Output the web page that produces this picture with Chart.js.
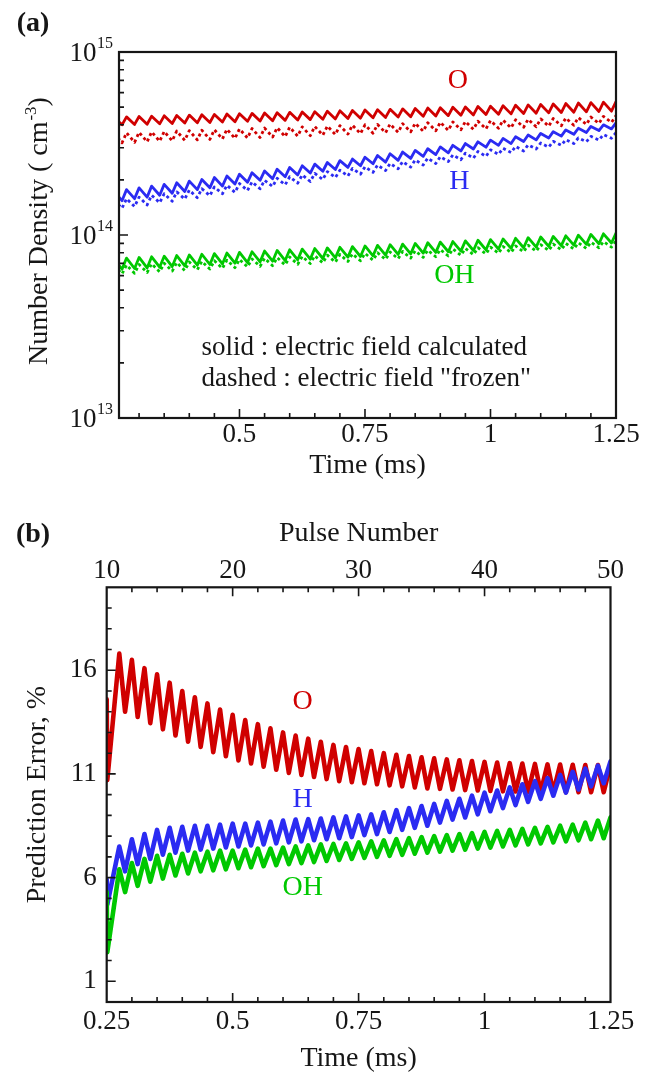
<!DOCTYPE html>
<html>
<head>
<meta charset="utf-8">
<script src="https://cdn.jsdelivr.net/npm/chart.js@4.4.1/dist/chart.umd.min.js"></script>
<style>
  html, body { margin: 0; padding: 0; background: #ffffff; }
  #wrap { position: relative; width: 656px; height: 1075px; overflow: hidden; background: #ffffff; }
  canvas { position: absolute; left: 0; }
  #densityChart { top: 0; }
  #errorChart { top: 500px; }
</style>
</head>
<body>
<div id="wrap">
  <canvas id="densityChart" width="656" height="500" style="width:656px;height:500px"></canvas>
  <canvas id="errorChart" width="656" height="575" style="width:656px;height:575px"></canvas>
</div>
<script>
// Discharge pulses: one pulse every 0.025 ms, pulse 10 fires at t = 0.25 ms
const pulseNumbers = [10, 11, 12, 13, 14, 15, 16, 17, 18, 19, 20, 21, 22, 23, 24, 25, 26, 27, 28, 29, 30,
                      31, 32, 33, 34, 35, 36, 37, 38, 39, 40, 41, 42, 43, 44, 45, 46, 47, 48, 49, 50];
const MS_PER_PULSE = 0.025;

// Panel (a): number density at each pulse (peak) and just before it (low), in 1e14 cm^-3
const oCalcPeak = [4.40, 4.42, 4.44, 4.46, 4.48, 4.50, 4.52, 4.54, 4.56, 4.58, 4.60, 4.62, 4.64, 4.66, 4.68, 4.70, 4.72, 4.75, 4.77, 4.79, 4.82,
                   4.84, 4.86, 4.89, 4.91, 4.94, 4.96, 4.99, 5.01, 5.04, 5.06, 5.09, 5.12, 5.14, 5.17, 5.20, 5.23, 5.26, 5.29, 5.32, 5.36];
const oCalcLow = [3.98, 4.00, 4.02, 4.03, 4.05, 4.07, 4.09, 4.10, 4.12, 4.14, 4.16, 4.18, 4.20, 4.21, 4.23, 4.25, 4.27, 4.29, 4.31, 4.33, 4.35,
                  4.37, 4.39, 4.41, 4.43, 4.45, 4.47, 4.49, 4.51, 4.53, 4.55, 4.57, 4.59, 4.61, 4.63, 4.65, 4.67, 4.69, 4.71, 4.73, 4.75];
const oFrozenPeak = [3.60, 3.62, 3.64, 3.66, 3.68, 3.70, 3.72, 3.74, 3.76, 3.78, 3.80, 3.82, 3.84, 3.86, 3.88, 3.90, 3.92, 3.94, 3.96, 3.98, 4.00,
                     4.02, 4.04, 4.06, 4.08, 4.11, 4.13, 4.15, 4.17, 4.19, 4.22, 4.24, 4.26, 4.29, 4.31, 4.33, 4.36, 4.38, 4.41, 4.45, 4.49];
const oFrozenLow = [3.17, 3.19, 3.21, 3.23, 3.25, 3.27, 3.29, 3.31, 3.33, 3.35, 3.37, 3.39, 3.41, 3.43, 3.45, 3.47, 3.49, 3.51, 3.54, 3.56, 3.58,
                    3.60, 3.62, 3.64, 3.66, 3.69, 3.71, 3.73, 3.76, 3.78, 3.80, 3.83, 3.85, 3.88, 3.90, 3.93, 3.95, 3.98, 4.02, 4.07, 4.12];
const hCalcPeak = [1.73, 1.77, 1.81, 1.85, 1.89, 1.93, 1.97, 2.01, 2.06, 2.10, 2.15, 2.19, 2.24, 2.29, 2.34, 2.39, 2.44, 2.49, 2.55, 2.60, 2.66,
                   2.72, 2.78, 2.84, 2.90, 2.96, 3.03, 3.09, 3.16, 3.23, 3.30, 3.37, 3.44, 3.52, 3.59, 3.67, 3.75, 3.83, 3.92, 4.00, 4.10];
const hCalcLow = [1.50, 1.54, 1.58, 1.61, 1.65, 1.69, 1.73, 1.77, 1.81, 1.85, 1.90, 1.94, 1.99, 2.03, 2.08, 2.13, 2.18, 2.23, 2.28, 2.34, 2.39,
                  2.45, 2.50, 2.56, 2.62, 2.69, 2.75, 2.81, 2.88, 2.95, 3.02, 3.09, 3.16, 3.24, 3.31, 3.39, 3.47, 3.55, 3.63, 3.72, 3.80];
const hFrozenPeak = [1.55, 1.58, 1.61, 1.65, 1.68, 1.72, 1.76, 1.79, 1.83, 1.87, 1.91, 1.95, 1.99, 2.04, 2.08, 2.13, 2.17, 2.22, 2.26, 2.31, 2.36,
                     2.41, 2.46, 2.52, 2.57, 2.63, 2.68, 2.74, 2.80, 2.86, 2.92, 2.98, 3.05, 3.11, 3.18, 3.25, 3.32, 3.39, 3.46, 3.54, 3.62];
const hFrozenLow = [1.37, 1.40, 1.43, 1.46, 1.50, 1.53, 1.57, 1.60, 1.64, 1.68, 1.71, 1.75, 1.79, 1.84, 1.88, 1.92, 1.96, 2.01, 2.06, 2.10, 2.15,
                    2.20, 2.25, 2.30, 2.35, 2.41, 2.46, 2.52, 2.58, 2.63, 2.69, 2.76, 2.82, 2.88, 2.95, 3.02, 3.09, 3.16, 3.23, 3.30, 3.38];
const ohCalcPeak = [0.742, 0.748, 0.754, 0.760, 0.766, 0.772, 0.778, 0.785, 0.791, 0.797, 0.804, 0.810, 0.817, 0.823, 0.830, 0.837, 0.843,
                    0.850, 0.857, 0.864, 0.871, 0.878, 0.885, 0.892, 0.899, 0.907, 0.914, 0.921, 0.929, 0.936, 0.944, 0.951, 0.959,
                    0.967, 0.975, 0.982, 0.990, 0.998, 1.007, 1.015, 1.023];
const ohCalcLow = [0.645, 0.650, 0.656, 0.661, 0.667, 0.672, 0.678, 0.684, 0.690, 0.695, 0.701, 0.707, 0.713, 0.719, 0.725, 0.732, 0.738,
                   0.744, 0.750, 0.757, 0.763, 0.770, 0.776, 0.783, 0.789, 0.796, 0.803, 0.810, 0.817, 0.823, 0.830, 0.838, 0.845,
                   0.852, 0.859, 0.866, 0.874, 0.881, 0.889, 0.896, 0.904];
const ohFrozenPeak = [0.680, 0.685, 0.690, 0.696, 0.701, 0.707, 0.712, 0.718, 0.723, 0.729, 0.735, 0.740, 0.746, 0.752, 0.758, 0.764, 0.770,
                      0.776, 0.782, 0.788, 0.794, 0.800, 0.807, 0.813, 0.819, 0.826, 0.832, 0.839, 0.845, 0.852, 0.858, 0.865, 0.872,
                      0.879, 0.885, 0.892, 0.899, 0.906, 0.913, 0.920, 0.927];
const ohFrozenLow = [0.608, 0.613, 0.618, 0.624, 0.629, 0.635, 0.640, 0.646, 0.651, 0.657, 0.663, 0.669, 0.674, 0.680, 0.686, 0.692, 0.698,
                     0.704, 0.710, 0.717, 0.723, 0.729, 0.735, 0.742, 0.748, 0.755, 0.761, 0.768, 0.775, 0.781, 0.788, 0.795, 0.802,
                     0.809, 0.816, 0.823, 0.830, 0.838, 0.845, 0.852, 0.859];

// Panel (b): prediction error (%) at each pulse (peak) and the low between pulses
const errOPeak = [14.6, 16.8, 16.5, 16.1, 15.8, 15.4, 15.0, 14.7, 14.4, 14.1, 13.85, 13.6, 13.4, 13.2, 13.0, 12.85, 12.7, 12.55, 12.4, 12.3, 12.2,
                  12.1, 12.0, 11.92, 11.86, 11.8, 11.75, 11.7, 11.66, 11.62, 11.58, 11.55, 11.52, 11.5, 11.48, 11.46, 11.45, 11.44, 11.43, 11.43, 11.45];
const errOLow = [10.7, 14.0, 13.75, 13.45, 13.15, 12.85, 12.55, 12.3, 12.05, 11.85, 11.65, 11.5, 11.35, 11.2, 11.05, 10.95, 10.85, 10.75, 10.65, 10.6, 10.55,
                 10.5, 10.45, 10.4, 10.35, 10.3, 10.28, 10.25, 10.22, 10.2, 10.18, 10.16, 10.15, 10.14, 10.13, 10.12, 10.12, 10.12, 10.12, 10.12, 10.15];
const errHPeak = [5.9, 7.5, 7.85, 8.1, 8.3, 8.4, 8.45, 8.5, 8.5, 8.55, 8.6, 8.6, 8.65, 8.7, 8.75, 8.8, 8.82, 8.85, 8.9, 8.95, 9.0,
                  9.05, 9.15, 9.25, 9.35, 9.45, 9.55, 9.7, 9.8, 9.95, 10.1, 10.2, 10.35, 10.5, 10.65, 10.8, 10.95, 11.1, 11.25, 11.4, 11.6];
const errHLow = [4.7, 6.3, 6.65, 6.9, 7.1, 7.2, 7.3, 7.35, 7.4, 7.45, 7.5, 7.55, 7.6, 7.65, 7.7, 7.75, 7.8, 7.85, 7.9, 7.95, 8.05,
                 8.1, 8.2, 8.3, 8.4, 8.5, 8.65, 8.8, 8.9, 9.05, 9.2, 9.35, 9.5, 9.65, 9.8, 9.95, 10.1, 10.25, 10.4, 10.55, 10.7];
const errOHPeak = [5.3, 6.4, 6.7, 6.9, 7.05, 7.1, 7.15, 7.2, 7.25, 7.3, 7.3, 7.35, 7.4, 7.4, 7.45, 7.5, 7.55, 7.6, 7.62, 7.65, 7.7,
                   7.75, 7.8, 7.85, 7.9, 7.95, 8.0, 8.05, 8.1, 8.15, 8.2, 8.25, 8.3, 8.35, 8.4, 8.45, 8.5, 8.55, 8.65, 8.75, 8.9];
const errOHLow = [2.4, 5.3, 5.6, 5.8, 5.95, 6.1, 6.2, 6.3, 6.35, 6.4, 6.45, 6.5, 6.55, 6.6, 6.65, 6.7, 6.75, 6.8, 6.85, 6.9, 6.95,
                  7.0, 7.05, 7.1, 7.15, 7.2, 7.25, 7.3, 7.35, 7.4, 7.45, 7.5, 7.55, 7.6, 7.65, 7.7, 7.75, 7.8, 7.85, 7.9, 8.0];

// Axis tick values
const timeTicks = [0.25, 0.5, 0.75, 1, 1.25];
const timeMinorTicks = [0.3, 0.35, 0.4, 0.45, 0.55, 0.6, 0.65, 0.7, 0.8, 0.85, 0.9, 0.95, 1.05, 1.1, 1.15, 1.2];
const pulseTicks = [10, 20, 30, 40, 50];
const pulseMinorTicks = [12, 14, 16, 18, 22, 24, 26, 28, 32, 34, 36, 38, 42, 44, 46, 48];
const errorTicks = [1, 6, 11, 16];
const errorMinorTicks = [2, 3, 4, 5, 7, 8, 9, 10, 12, 13, 14, 15, 17, 18, 19];
const densityDecades = [13, 14, 15];
const densityMinorMantissas = [2, 3, 4, 5, 6, 7, 8, 9];

const FONT = '"Liberation Serif", "Times New Roman", Times, serif';
const INK = '#161616';
const RED = '#d00000';
const BLUE = '#2b2bf2';
const GREEN = '#00c800';
const DENSITY_UNIT = 1e14;
const RISE_MS = 0.009;    // build-up drawn before each density peak
const DROP_MS = 0.0115;   // decay drawn after each error peak

Chart.defaults.font.family = FONT;
Chart.defaults.color = INK;

// Sawtooth of density: low just before the pulse, peak at the pulse
function densityTrace(peaks, lows) {
  const pts = [];
  pulseNumbers.forEach((n, i) => {
    const t = n * MS_PER_PULSE;
    pts.push({ x: t - RISE_MS, y: lows[i] * DENSITY_UNIT });
    pts.push({ x: t, y: peaks[i] * DENSITY_UNIT });
  });
  return pts;
}
// Zigzag of error: peak at the pulse, low between pulses
function errorTrace(peaks, lows) {
  const pts = [];
  pulseNumbers.forEach((n, i) => {
    const t = n * MS_PER_PULSE;
    pts.push({ x: t, y: peaks[i] });
    pts.push({ x: t + (i === 0 ? 0.0012 : DROP_MS), y: lows[i] });
  });
  return pts;
}

const densityMinorTicks = [];
densityDecades.slice(0, -1).forEach(d => densityMinorMantissas.forEach(m => densityMinorTicks.push(m * Math.pow(10, d))));
const densityMajorTicks = densityDecades.map(d => Math.pow(10, d));

// Box frame with inward tick marks
const axisFrame = {
  id: 'axisFrame',
  afterDatasetsDraw(chart, _args, opts) {
    const { ctx, chartArea: a, scales } = chart;
    ctx.save();
    ctx.strokeStyle = INK;
    ctx.lineWidth = 1.6;
    ctx.beginPath();
    (opts.marks || []).forEach(set => {
      const s = scales[set.scale];
      set.values.forEach(v => {
        if (v <= s.min || v >= s.max) return;
        const p = s.getPixelForValue(v);
        if (set.side === 'left') { ctx.moveTo(a.left, p); ctx.lineTo(a.left + set.len, p); }
        else if (set.side === 'bottom') { ctx.moveTo(p, a.bottom); ctx.lineTo(p, a.bottom - set.len); }
        else if (set.side === 'top') { ctx.moveTo(p, a.top); ctx.lineTo(p, a.top + set.len); }
      });
    });
    ctx.stroke();
    ctx.lineWidth = 2.2;
    ctx.strokeRect(a.left, a.top, a.right - a.left, a.bottom - a.top);
    ctx.restore();
  }
};

// Labels placed in data space, panel letters and super-scripted texts
const plotText = {
  id: 'plotText',
  afterDraw(chart, _args, opts) {
    const { ctx, scales, chartArea: a } = chart;
    ctx.save();
    (opts.notes || []).forEach(n => {
      ctx.font = n.font;
      ctx.fillStyle = n.color || INK;
      ctx.textAlign = n.align || 'center';
      ctx.textBaseline = 'middle';
      const x = n.px !== undefined ? n.px : scales.x.getPixelForValue(n.x);
      const y = n.py !== undefined ? n.py : scales.y.getPixelForValue(n.y);
      ctx.fillText(n.text, x, y);
    });
    if (opts.powerLabels) {
      const s = scales.y;
      densityDecades.forEach(d => {
        const y = s.getPixelForValue(Math.pow(10, d));
        ctx.fillStyle = INK;
        ctx.textBaseline = 'middle';
        ctx.font = '16px ' + FONT;
        const ew = ctx.measureText(String(d)).width;
        const xe = a.left - 6 - ew;
        ctx.textAlign = 'left';
        ctx.fillText(String(d), xe, y - 8);
        ctx.font = '27px ' + FONT;
        ctx.textAlign = 'right';
        ctx.fillText('10', xe - 0.5, y + 2);
      });
    }
    if (opts.supTitle) {
      const t = opts.supTitle;
      ctx.translate(t.x, t.y);
      ctx.rotate(-Math.PI / 2);
      ctx.fillStyle = INK;
      ctx.textBaseline = 'alphabetic';
      ctx.textAlign = 'left';
      ctx.font = '28px ' + FONT;
      const w1 = ctx.measureText(t.main).width;
      const w3 = ctx.measureText(t.tail).width;
      ctx.font = '17px ' + FONT;
      const w2 = ctx.measureText(t.sup).width + 1;
      let x = -(w1 + w2 + w3) / 2;
      ctx.font = '28px ' + FONT;
      ctx.fillText(t.main, x, 0);
      x += w1;
      ctx.font = '17px ' + FONT;
      ctx.fillText(t.sup, x + 1, -11);
      x += w2;
      ctx.font = '28px ' + FONT;
      ctx.fillText(t.tail, x, 0);
    }
    ctx.restore();
  }
};

const tickFont = { family: FONT, size: 27 };
const titleFont = { family: FONT, size: 28 };
const noteFont = '28px ' + FONT;
const legendFont = '27px ' + FONT;

function line(label, data, color, width, dash, join) {
  return {
    label, data, borderColor: color, borderWidth: width, borderDash: dash || [],
    pointRadius: 0, tension: 0, fill: false, clip: 0,
    borderJoinStyle: join || 'round', borderCapStyle: dash ? 'butt' : 'round'
  };
}

// ---------- (a) number density ----------
new Chart(document.getElementById('densityChart'), {
  type: 'line',
  data: {
    datasets: [
      line('O calculated', densityTrace(oCalcPeak, oCalcLow), RED, 2.8),
      line('H calculated', densityTrace(hCalcPeak, hCalcLow), BLUE, 2.8),
      line('OH calculated', densityTrace(ohCalcPeak, ohCalcLow), GREEN, 2.8),
      line('O frozen', densityTrace(oFrozenPeak, oFrozenLow), RED, 2.8, [3, 3]),
      line('H frozen', densityTrace(hFrozenPeak, hFrozenLow), BLUE, 2.8, [3, 3]),
      line('OH frozen', densityTrace(ohFrozenPeak, ohFrozenLow), GREEN, 2.8, [3, 3])
    ]
  },
  options: {
    responsive: false, animation: false, devicePixelRatio: 1,
    layout: { padding: { left: 0, top: 52, right: 40, bottom: 0 } },
    plugins: {
      legend: { display: false }, tooltip: { enabled: false },
      axisFrame: {
        marks: [
          { scale: 'y', side: 'left', values: densityMinorTicks, len: 5 },
          { scale: 'y', side: 'left', values: densityMajorTicks, len: 9 },
          { scale: 'x', side: 'bottom', values: timeMinorTicks, len: 5 },
          { scale: 'x', side: 'bottom', values: timeTicks, len: 9 }
        ]
      },
      plotText: {
        powerLabels: true,
        supTitle: { x: 47, y: 231, main: 'Number Density ( cm', sup: '-3', tail: ')' },
        notes: [
          { text: '(a)', px: 33, py: 24, font: 'bold 28px ' + FONT },
          { text: 'O', x: 0.935, y: 7.0e14, color: RED, font: noteFont },
          { text: 'H', x: 0.938, y: 1.95e14, color: BLUE, font: noteFont },
          { text: 'OH', x: 0.928, y: 6.0e13, color: GREEN, font: noteFont },
          { text: 'solid : electric field calculated', x: 0.4245, y: 2.41e13, align: 'left', font: legendFont },
          { text: 'dashed : electric field "frozen"', x: 0.4245, y: 1.64e13, align: 'left', font: legendFont }
        ]
      }
    },
    scales: {
      x: {
        type: 'linear', min: 0.26, max: 1.25,
        afterBuildTicks: s => { s.ticks = timeTicks.filter(v => v >= s.min && v <= s.max).map(v => ({ value: v })); },
        afterFit: s => { s.height = 82; },
        grid: { display: false, drawTicks: false }, border: { display: false },
        ticks: { font: tickFont, color: INK, padding: 1, maxRotation: 0, autoSkip: false, callback: v => String(v) },
        title: { display: true, text: 'Time (ms)', font: titleFont, color: INK, padding: { top: 0, bottom: 18 } }
      },
      y: {
        type: 'logarithmic', min: 1e13, max: 1e15,
        afterFit: s => { s.width = 119; },
        grid: { display: false, drawTicks: false }, border: { display: false },
        ticks: { display: false }
      }
    }
  },
  plugins: [axisFrame, plotText]
});

// ---------- (b) prediction error ----------
new Chart(document.getElementById('errorChart'), {
  type: 'line',
  data: {
    datasets: [
      line('OH', errorTrace(errOHPeak, errOHLow), GREEN, 4.6),
      line('H', errorTrace(errHPeak, errHLow), BLUE, 4.6),
      line('O', errorTrace(errOPeak, errOLow), RED, 4.6)
    ]
  },
  options: {
    responsive: false, animation: false, devicePixelRatio: 1,
    layout: { padding: { left: 0, top: 0, right: 45.5, bottom: 0 } },
    plugins: {
      legend: { display: false }, tooltip: { enabled: false },
      axisFrame: {
        marks: [
          { scale: 'y', side: 'left', values: errorMinorTicks, len: 5 },
          { scale: 'y', side: 'left', values: errorTicks, len: 9 },
          { scale: 'x', side: 'bottom', values: timeMinorTicks, len: 5 },
          { scale: 'x', side: 'bottom', values: timeTicks, len: 9 },
          { scale: 'xPulse', side: 'top', values: pulseMinorTicks, len: 5 },
          { scale: 'xPulse', side: 'top', values: pulseTicks, len: 9 }
        ]
      },
      plotText: {
        notes: [
          { text: '(b)', px: 33, py: 35, font: 'bold 28px ' + FONT },
          { text: 'O', x: 0.639, y: 14.48, color: RED, font: noteFont },
          { text: 'H', x: 0.639, y: 9.77, color: BLUE, font: noteFont },
          { text: 'OH', x: 0.639, y: 5.53, color: GREEN, font: noteFont }
        ]
      }
    },
    scales: {
      x: {
        type: 'linear', position: 'bottom', min: 0.25, max: 1.25,
        afterBuildTicks: s => { s.ticks = timeTicks.map(v => ({ value: v })); },
        afterFit: s => { s.height = 73; },
        grid: { display: false, drawTicks: false }, border: { display: false },
        ticks: { font: tickFont, color: INK, padding: 3.5, maxRotation: 0, autoSkip: false, callback: v => String(v) },
        title: { display: true, text: 'Time (ms)', font: titleFont, color: INK, padding: { top: 0, bottom: 0 } }
      },
      xPulse: {
        type: 'linear', position: 'top', min: 10, max: 50,
        afterBuildTicks: s => { s.ticks = pulseTicks.map(v => ({ value: v })); },
        afterFit: s => { s.height = 87.3; },
        grid: { display: false, drawTicks: false }, border: { display: false },
        ticks: { font: tickFont, color: INK, padding: 0, maxRotation: 0, autoSkip: false, callback: v => String(v) },
        title: { display: true, text: 'Pulse Number', font: titleFont, color: INK, padding: { top: 17, bottom: 0 } }
      },
      y: {
        type: 'linear', min: 0, max: 20,
        afterBuildTicks: s => { s.ticks = errorTicks.map(v => ({ value: v })); },
        afterFit: s => { s.width = 106.7; },
        grid: { display: false, drawTicks: false }, border: { display: false },
        ticks: { font: tickFont, color: INK, padding: 10, callback: v => String(v) },
        title: { display: true, text: 'Prediction Error, %', font: titleFont, color: INK, padding: { top: 21, bottom: 0 } }
      }
    }
  },
  plugins: [axisFrame, plotText]
});
</script>
</body>
</html>
